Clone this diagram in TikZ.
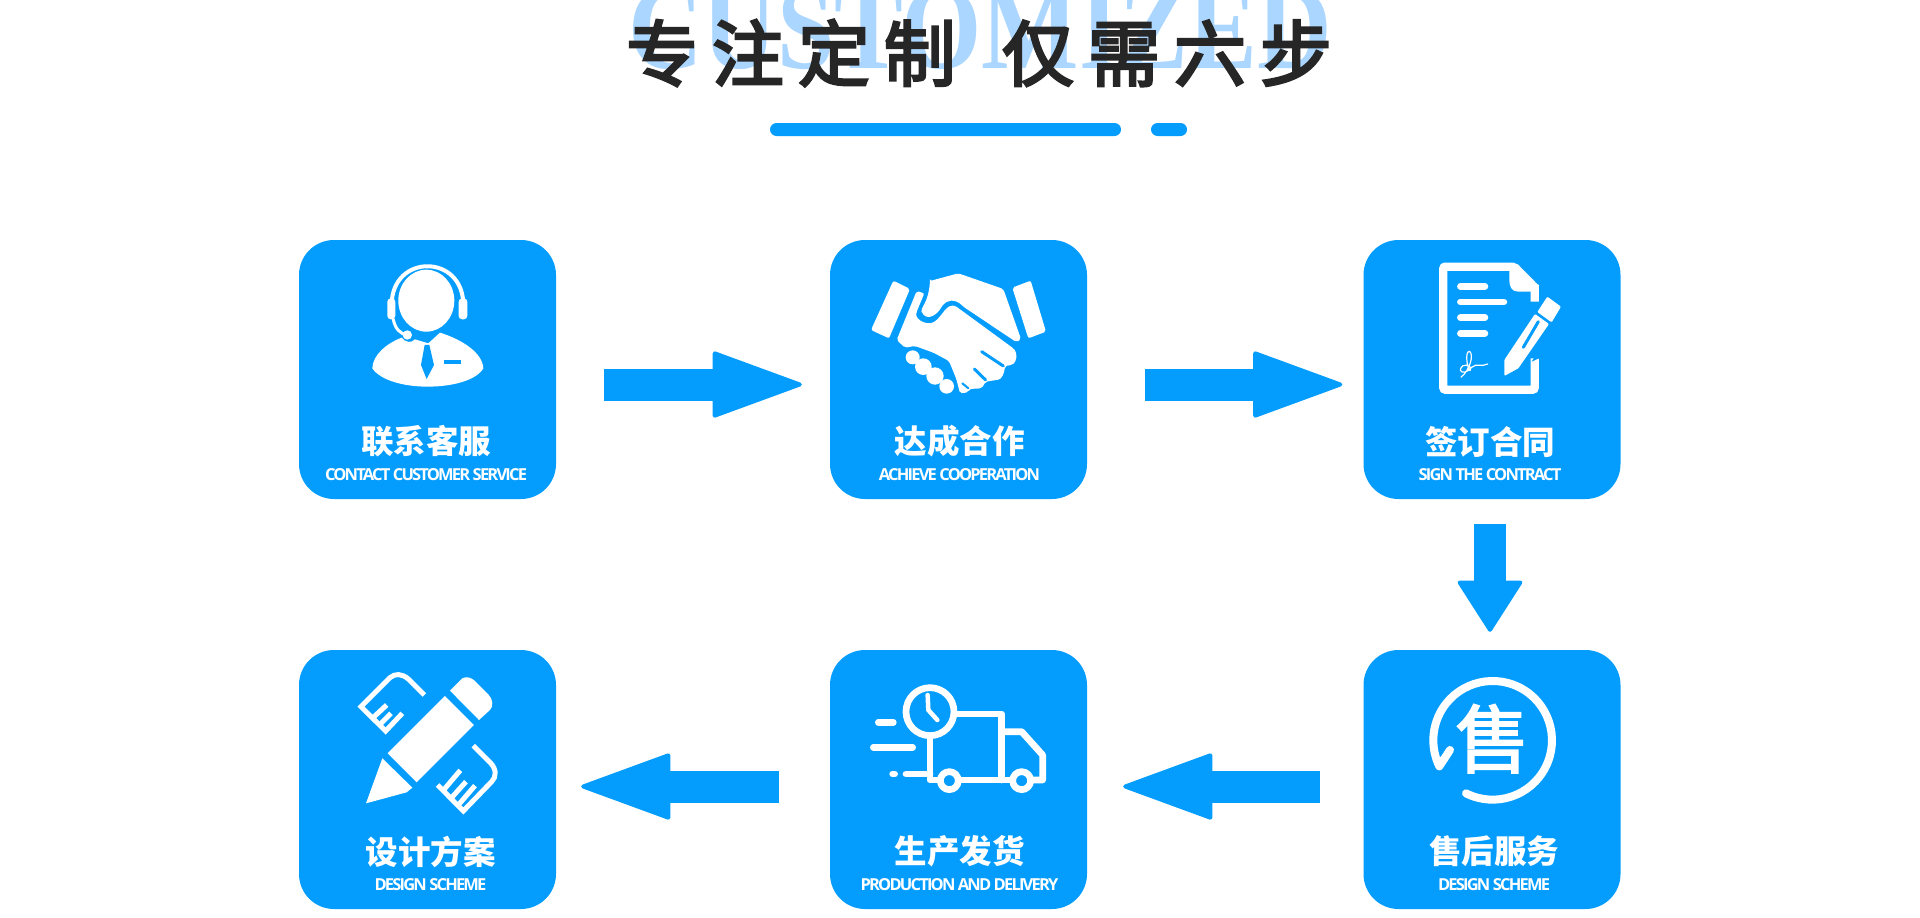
\documentclass[tikz,border=0pt]{standalone}
\usepackage{fontspec}
\usetikzlibrary{arrows.meta}
\newfontfamily\cnfont{Noto Sans CJK SC}
\newfontfamily\titlefont[LetterSpace=19.4,FakeBold=3.5]{Noto Sans CJK SC}
\newfontfamily\markfont[FakeBold=2.5]{Noto Sans CJK SC}
\newfontfamily\enfont[LetterSpace=-11]{Open Sans}
\newfontfamily\ghostfont[FakeStretch=0.86]{Liberation Serif}
\definecolor{cardblue}{HTML}{049DFE}
\definecolor{ghostblue}{HTML}{ABD6FF}
\definecolor{titleink}{HTML}{262626}
\tikzset{
  card/.style={fill=cardblue, rounded corners=35pt, minimum width=257pt, minimum height=259pt, inner sep=0pt},
  cardcn/.style={text=white, font=\cnfont\bfseries\fontsize{32.5}{36}\selectfont},
  carden/.style={text=white, font=\enfont\bfseries\fontsize{16.5}{18}\selectfont},
  flowarrow/.style={draw=cardblue, line width=32pt, -{Triangle[length=#1,width=67pt,line width=4pt,round]}},
  flowarrow/.default=93pt,
  zoomgrid/.style={x=0.3333pt, y=-0.3333pt},
  whiteline/.style={draw=white, line cap=round, line join=round},
  blueline/.style={draw=cardblue, line cap=round, line join=round},
}

\begin{document}
\begin{tikzpicture}[x=1pt, y=-1pt]
  \clip (0,0) rectangle (1920,918);

  % Title
  \node[anchor=base, text=ghostblue, inner sep=0pt, font=\ghostfont\bfseries\fontsize{120}{130}\selectfont] (ghost) at (980,68) {CUSTOMIZED};
  \node[text=titleink, inner sep=0pt, font=\titlefont\fontsize{72}{80}\selectfont] (title) at (979,53) {专注定制\hspace{16pt} 仅需六步};
  \fill[cardblue, rounded corners=6.5pt] (770,123) rectangle (1121,136);
  \fill[cardblue, rounded corners=6.5pt] (1151,123) rectangle (1187,136);

  % Cards
  \foreach \name/\cx/\cy/\tx/\cn/\en in {
    service/427.5/369.5/-1.5/联系客服/CONTACT CUSTOMER SERVICE,
    cooperate/958.5/369.5/1/达成合作/ACHIEVE COOPERATION,
    contract/1492/369.5/-2/签订合同/SIGN THE CONTRACT,
    aftersale/1492/779.5/2/售后服务/DESIGN SCHEME,
    delivery/958.5/779.5/1/生产发货/PRODUCTION AND DELIVERY,
    scheme/427.5/779.5/3/设计方案/DESIGN SCHEME} {
    \node[card] (\name) at (\cx,\cy) {};
    \node[cardcn] (\name-cn) at ([xshift=\tx pt,yshift=-72pt]\name.center) {\cn};
    \node[carden] (\name-en) at ([xshift=\tx pt,yshift=-105.5pt]\name.center) {\en};
  }

  % Arrows
  \draw[flowarrow] ([xshift=48pt,yshift=-15pt]service.east) -- ([xshift=-28pt,yshift=-15pt]cooperate.west);
  \draw[flowarrow] ([xshift=58pt,yshift=-15pt]cooperate.east) -- ([xshift=-21pt,yshift=-15pt]contract.west);
  \draw[flowarrow=53pt] ([xshift=-2pt,yshift=-25pt]contract.south) -- ([xshift=-2pt,yshift=18pt]aftersale.north);
  \draw[flowarrow] ([xshift=-43pt,yshift=-7pt]aftersale.west) -- ([xshift=36pt,yshift=-7pt]delivery.east);
  \draw[flowarrow] ([xshift=-51pt,yshift=-7pt]delivery.west) -- ([xshift=25pt,yshift=-7pt]scheme.east);

  % Icon: headset agent
  \begin{scope}[shift={(290,230)}, zoomgrid]
    \draw[whiteline, line width=4pt] (305,225) .. controls (305,70) and (520,70) .. (520,225);
    \fill[white] (409,212) ellipse (84 and 93);
    \fill[white, rounded corners=3.5pt] (292,205) rectangle (316,268);
    \fill[white, rounded corners=3.5pt] (506,205) rectangle (532,268);
    \draw[whiteline, line width=3pt] (310,268) .. controls (315,295) and (330,312) .. (352,315);
    \fill[white] (352,315) circle (14);
    \fill[white] (335,323) .. controls (290,340) and (248,375) .. (247,415)
      .. controls (270,450) and (340,470) .. (412,470)
      .. controls (490,470) and (560,450) .. (580,415)
      .. controls (578,370) and (520,330) .. (450,308) -- (415,340) -- (375,328)
      .. controls (365,340) and (345,338) .. cycle;
    \fill[cardblue] (404,345) -- (418,345) -- (432,405) -- (410,447) -- (393,405) -- cycle;
    \fill[cardblue] (463,390) rectangle (512,403);
  \end{scope}

  % Icon: handshake
  \begin{scope}[shift={(865,265)}, zoomgrid]
    \fill[white, rounded corners=2pt] (85,47) -- (135,72) -- (72,220) -- (18,195) -- cycle;
    \fill[white, rounded corners=2pt] (442,68) -- (497,47) -- (543,200) -- (490,220) -- cycle;
    \fill[white, rounded corners=2pt] (195,48) -- (280,25) -- (415,72) -- (468,222) -- (455,232) -- (295,125)
      .. controls (270,100) and (245,105) .. (230,125) .. controls (215,150) and (190,165) .. (172,145)
      .. controls (165,130) and (190,115) .. cycle;
    \fill[white, rounded corners=2pt] (155,78) -- (178,85) -- (155,140)
      .. controls (150,165) and (190,185) .. (215,165) .. controls (235,145) and (245,120) .. (270,122)
      -- (445,250) .. controls (458,265) and (455,290) .. (440,300) -- (420,303) .. controls (418,325) and (410,342) .. (395,345)
      -- (362,350) -- (350,370) -- (312,372) -- (310,382) -- (285,385) -- (274,342) -- (252,288) -- (205,263)
      -- (150,243) -- (120,248) -- (95,225) -- cycle;
    \draw[blueline, line width=3pt] (350,260) -- (415,303);
    \draw[blueline, line width=3pt] (328,312) -- (362,345);
    \draw[blueline, line width=2pt] (292,355) -- (310,370);
    \foreach \kx/\ky/\kr in {143/277/21, 175/305/25, 210/333/26, 245/364/22} {
      \fill[white] (\kx,\ky) circle (\kr);
    }
  \end{scope}

  % Icon: signed contract
  \begin{scope}[shift={(1355,230)}, zoomgrid]
    \draw[white, line width=8.3pt, rounded corners=2pt] (539,215) -- (539,172) -- (478,110) -- (265,110) -- (265,479) -- (539,479) -- (539,385);
    \fill[white] (463,115) -- (552,165) -- (552,185) -- (490,185) .. controls (470,185) and (463,170) .. (463,150) -- cycle;
    \draw[whiteline, line width=6.5pt] (316,169) -- (390,169);
    \draw[whiteline, line width=6.5pt] (316,216) -- (447,216);
    \draw[whiteline, line width=6.5pt] (316,263) -- (390,263);
    \draw[whiteline, line width=6.5pt] (316,310) -- (390,310);
    \draw[whiteline, line width=1.2pt] (318,442) .. controls (345,420) and (358,372) .. (343,364)
      .. controls (328,365) and (338,420) .. (345,422) .. controls (355,405) and (320,395) .. (316,420)
      .. controls (318,430) and (335,430) .. (350,412) .. controls (365,398) and (380,412) .. (398,402);
    \fill[cardblue] (552,385) -- (552,360) -- (530,395) -- cycle;
    \fill[white, rounded corners=1pt] (448,438) -- (448,390) -- (540,252) -- (582,282) -- (490,415) -- cycle;
    \draw[blueline, line width=3pt] (505,352) -- (550,275);
    \fill[white, rounded corners=1pt] (547,246) -- (577,200) -- (618,230) -- (590,277) -- cycle;
  \end{scope}

  % Icon: after-sale loop
  \begin{scope}[shift={(1355,640)}, zoomgrid]
    \draw[whiteline, line width=8pt] (333,460) arc[start angle=116.7, end angle=-206, radius=178] -- (285,330);
    \node[text=white, inner sep=0pt, font=\markfont\fontsize{74}{80}\selectfont] (salemark) at (412,296) {售};
  \end{scope}

  % Icon: delivery truck
  \begin{scope}[shift={(820,640)}, zoomgrid]
    \draw[whiteline, line width=6.7pt] (330,215) circle (72);
    \draw[whiteline, line width=4.5pt] (323,165) -- (325,210) -- (352,240);
    \draw[whiteline, line width=6.7pt] (412,222) -- (545,222) -- (545,420);
    \draw[whiteline, line width=6.7pt] (330,295) -- (330,420) -- (360,420);
    \draw[whiteline, line width=6.7pt] (420,420) -- (575,420);
    \draw[whiteline, line width=6.7pt] (545,275) -- (605,275) -- (668,345) -- (668,420) -- (640,420);
    \draw[whiteline, line width=6.7pt] (388,422) circle (27);
    \draw[whiteline, line width=6.7pt] (605,422) circle (27);
    \draw[whiteline, line width=6.7pt] (175,247) -- (220,247);
    \draw[whiteline, line width=6.7pt] (160,322) -- (278,322);
    \draw[whiteline, line width=6.7pt] (218,402) -- (224,402);
    \draw[whiteline, line width=6.7pt] (258,402) -- (330,402);
  \end{scope}

  % Icon: pencil and ruler
  \begin{scope}[shift={(355,665)}, zoomgrid]
    \fill[white] (270,93) -- (357,180) -- (185,352) -- (98,265) -- cycle;
    \fill[white] (285,77) -- (322,40) .. controls (335,33) and (350,38) .. (360,48) -- (400,88)
      .. controls (415,103) and (415,125) .. (405,135) -- (372,165) -- cycle;
    \fill[white] (82,280) -- (172,368) -- (155,382) -- (33,415) -- cycle;
    \draw[white, line width=5pt] (208,90) -- (160,42) .. controls (140,25) and (120,25) .. (105,38) -- (18,125) -- (92,198) -- (142,145);
    \draw[white, line width=5pt] (52,160) -- (95,120);
    \draw[white, line width=5pt] (75,178) -- (108,145);
    \draw[white, line width=5pt] (355,242) -- (405,292) .. controls (425,312) and (425,335) .. (410,350) -- (325,438) -- (248,360);
    \draw[white, line width=5pt] (265,376) -- (316,316);
    \draw[white, line width=5pt] (288,400) -- (333,350);
    \draw[white, line width=5pt] (310,420) -- (360,362);
  \end{scope}
\end{tikzpicture}
\end{document}
